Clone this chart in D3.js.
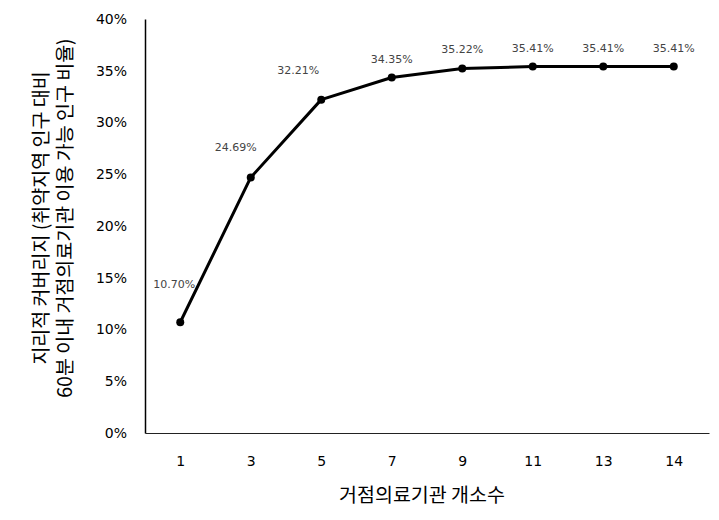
<!DOCTYPE html>
<html><head><meta charset="utf-8">
<script src="https://cdn.jsdelivr.net/npm/d3@7"></script>
<style>
html,body{margin:0;padding:0;background:#fff;}
svg{display:block;}
</style></head>
<body>
<svg id="chart" width="719" height="520"></svg>
<script>
const categories = ["1","3","5","7","9","11","13","14"];
const values = [10.70, 24.69, 32.21, 34.35, 35.22, 35.41, 35.41, 35.41];
const valueLabels = ["10.70%","24.69%","32.21%","34.35%","35.22%","35.41%","35.41%","35.41%"];
const yTicks = [0,5,10,15,20,25,30,35,40];
const xTitle = "거점의료기관 개소수";
const yTitleLines = ["지리적 커버리지 (취약지역 인구 대비", "60분 이내 거점의료기관 이용 가능 인구 비율)"];
// label offsets (style config)
const labelShift = [[-6,-37],[-15,-29],[-23,-29],[0,-17],[0,-18],[0,-18],[0,-18],[0,-18]];

const svg = d3.select("#chart");
const mLeft = 145, mRight = 709, mTop = 19, mBottom = 433;

const x = d3.scalePoint().domain(categories).range([mLeft, mRight]).padding(0.5);
const y = d3.scaleLinear().domain([0, 40]).range([mBottom, mTop]);

// y axis
const yAxis = svg.append("g").attr("transform", `translate(${mLeft},0)`)
  .call(d3.axisLeft(y).tickValues(yTicks).tickSize(0).tickPadding(18).tickFormat(d => d + "%"));
yAxis.select(".domain").attr("stroke", "#000").attr("stroke-width", 1.5);
yAxis.selectAll("text").attr("font-family", "DejaVu Sans, sans-serif").attr("font-size", 14).attr("fill", "#000");

// x axis
const xAxis = svg.append("g").attr("transform", `translate(0,${mBottom})`)
  .call(d3.axisBottom(x).tickSize(0).tickPadding(23));
xAxis.select(".domain").attr("stroke", "#222").attr("stroke-width", 1.2);
xAxis.selectAll("text").attr("font-family", "DejaVu Sans, sans-serif").attr("font-size", 14).attr("fill", "#000");

// line
const line = d3.line().x((d, i) => x(categories[i])).y(d => y(d));
svg.append("path").datum(values).attr("d", line)
  .attr("fill", "none").attr("stroke", "#000").attr("stroke-width", 3).attr("stroke-linejoin", "round");

svg.selectAll("circle.pt").data(values).enter().append("circle")
  .attr("class", "pt")
  .attr("cx", (d, i) => x(categories[i])).attr("cy", d => y(d)).attr("r", 4).attr("fill", "#000");

// data labels
svg.selectAll("text.lbl").data(values).enter().append("text")
  .attr("class", "lbl")
  .attr("x", (d, i) => x(categories[i]) + labelShift[i][0])
  .attr("y", (d, i) => y(d) + labelShift[i][1])
  .attr("text-anchor", "middle").attr("dominant-baseline", "middle")
  .attr("font-family", "DejaVu Sans, sans-serif").attr("font-size", 11).attr("fill", "#444")
  .text((d, i) => valueLabels[i]);

// x title
svg.append("text").attr("x", 422).attr("y", 497)
  .attr("text-anchor", "middle").attr("dominant-baseline", "middle")
  .attr("font-family", "Noto Sans CJK KR, sans-serif").attr("font-size", 19.5).attr("fill", "#000")
  .text(xTitle);

// y title
const yt = svg.append("text").attr("transform", "translate(55,218) rotate(-90)")
  .attr("text-anchor", "middle").attr("dominant-baseline", "middle")
  .attr("font-family", "Noto Sans CJK KR, sans-serif").attr("font-size", 19.5).attr("fill", "#000");
yTitleLines.forEach((t, i) => {
  yt.append("tspan").attr("x", 0).attr("y", i === 0 ? -12 : 12).text(t);
});
</script>
</body></html>
